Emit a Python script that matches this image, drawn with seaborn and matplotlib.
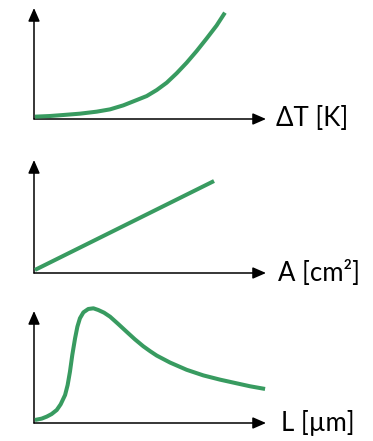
import matplotlib
matplotlib.use("Agg")
import matplotlib.pyplot as plt
import seaborn as sns

# Qualitative response curves (arbitrary units, axes span 0..10)
dt_x = [0.04, 0.69, 1.26, 1.98, 2.70, 3.28, 3.85, 4.43, 4.86, 5.29,
        5.72, 6.15, 6.58, 7.01, 7.44, 7.87, 8.23]
dt_y = [0.21, 0.27, 0.36, 0.48, 0.66, 0.87, 1.23, 1.71, 2.07, 2.61,
        3.27, 4.12, 5.07, 6.12, 7.25, 8.42, 9.58]

area_x = [0.04, 7.76]
area_y = [0.27, 8.14]

len_x = [0.04, 0.33, 0.55, 0.76, 0.98, 1.15, 1.34, 1.45, 1.55, 1.65,
         1.77, 1.87, 1.98, 2.13, 2.34, 2.56, 2.77, 3.02, 3.28, 3.63,
         3.99, 4.35, 4.71, 5.00, 5.29, 5.86, 6.58, 7.30, 8.02, 8.74,
         9.31, 9.96]
len_y = [0.27, 0.39, 0.57, 0.80, 1.16, 1.67, 2.50, 3.39, 4.58, 6.07,
         7.56, 8.60, 9.35, 9.88, 10.18, 10.24, 10.09, 9.85, 9.49, 8.84,
         8.15, 7.47, 6.85, 6.42, 6.02, 5.40, 4.75, 4.25, 3.87, 3.54,
         3.28, 3.04]

axis_labels = ["ΔT [K]", "A [cm²]", "L [µm]"]

sns.set_theme(style="white")
plt.rcParams["font.family"] = ["Lato", "DejaVu Sans"]

W, H = 373, 441
fig = plt.figure(figsize=(W / 100, H / 100), dpi=100)

GREEN = "#389b60"
left = 34 / W
width = (266 - 34) / W
# (origin row, arrow-tip row) of each panel in pixel rows from the top
panels = [(119, 8), (273, 160), (423, 311)]
series = [(dt_x, dt_y), (area_x, area_y), (len_x, len_y)]
label_dx = [7.0, 9.0, 11.0]

for (orig, tip), (xs, ys), lab, dx in zip(panels, series, axis_labels, label_dx):
    ax = fig.add_axes([left, (H - orig) / H, width, (orig - tip) / H])
    sns.lineplot(x=xs, y=ys, ax=ax, color=GREEN, linewidth=2.9,
                 sort=False, estimator=None)
    for ln in ax.lines:
        ln.set_clip_on(False)
        ln.set_solid_capstyle("butt")
        ln.set_solid_joinstyle("round")
    ax.set_xlim(0, 10)
    ax.set_ylim(0, 10)
    ax.set_xticks([])
    ax.set_yticks([])
    for s in ax.spines.values():
        s.set_visible(False)
    ax.patch.set_alpha(0)
    arrow = dict(arrowstyle="-|>,head_length=0.8,head_width=0.35",
                 color="black", lw=1.1, mutation_scale=10,
                 shrinkA=0, shrinkB=0)
    ax.annotate("", xy=(1, 0), xytext=(0, 0), xycoords="axes fraction",
                arrowprops=arrow, zorder=1)
    ax.annotate("", xy=(0, 1), xytext=(0, 0), xycoords="axes fraction",
                arrowprops=arrow, zorder=1)
    ax.annotate(lab, xy=(1, 0), xycoords="axes fraction",
                xytext=(dx, 0), textcoords="offset points",
                ha="left", va="center", fontsize=18.5, color="black",
                annotation_clip=False)

fig.savefig("out.png", dpi=100)
